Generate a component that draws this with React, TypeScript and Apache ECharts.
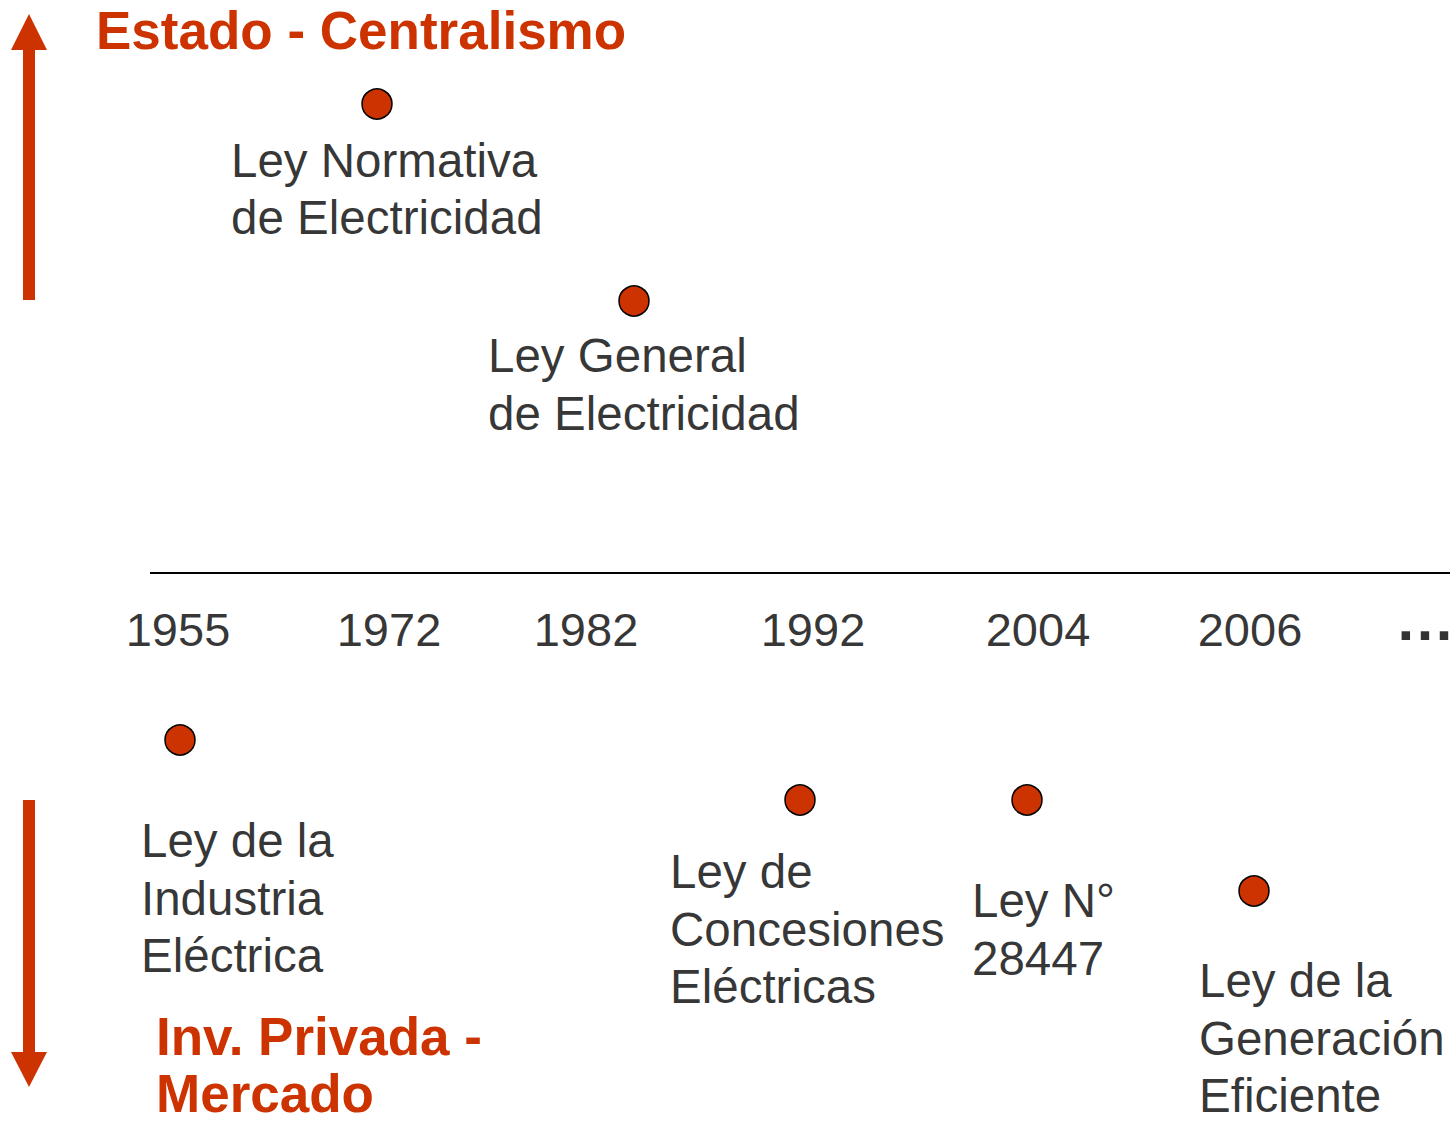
import React, { useEffect, useRef } from "react";
import * as echarts from "echarts";

// Timeline position units: x along the timeline, y = orientation (+ Estado, - Mercado)
const yearLabels = ["1955", "1972", "1982", "1992", "2004", "2006"];
const yearPos = [178, 389, 586, 813, 1038, 1250];
const yearLevel = -56;

const eventNames = [
  "Ley Normativa\nde Electricidad",
  "Ley General\nde Electricidad",
  "Ley de la\nIndustria\nEléctrica",
  "Ley de\nConcesiones\nEléctricas",
  "Ley N°\n28447",
  "Ley de la\nGeneración\nEficiente",
];
const eventX = [377, 634, 180, 800, 1027, 1254];
const eventY = [469, 272, -167, -227, -227, -318];
const labelX = [231, 488, 141, 670, 972, 1199];
const labelY = [384, 188.5, -325, -356, -356.5, -465];

const timelineStart = 150;
const timelineEnd = 1450;

const topTitle = "Estado - Centralismo";
const bottomTitleLines = ["Inv. Privada -", "Mercado"];
const moreLabel = "…";

const ORANGE = "#CC3300";
const FONT = "'Liberation Sans', Arial, Helvetica, sans-serif";

export default function App() {
  const ref = useRef<HTMLDivElement>(null);
  useEffect(() => {
    document.body.style.margin = "0";
    const chart = echarts.init(ref.current!, null, { renderer: "svg" });
    chart.setOption({
      animation: false,
      backgroundColor: "#ffffff",
      grid: { left: 0, right: 0, top: 0, bottom: 0 },
      xAxis: { type: "value", min: 0, max: 1455, show: false },
      yAxis: { type: "value", min: -552, max: 573, show: false },
      graphic: [
        // up arrow
        { type: "rect", shape: { x: 23, y: 48, width: 12, height: 252 }, style: { fill: ORANGE } },
        { type: "polygon", shape: { points: [[11, 50], [47, 50], [29, 14]] }, style: { fill: ORANGE } },
        // down arrow
        { type: "rect", shape: { x: 23, y: 800, width: 12, height: 254 }, style: { fill: ORANGE } },
        { type: "polygon", shape: { points: [[11, 1052], [47, 1052], [29, 1087]] }, style: { fill: ORANGE } },
        {
          type: "text",
          left: 96,
          top: 4,
          style: { text: topTitle, fill: ORANGE, font: `bold 53px ${FONT}`, lineHeight: 42 },
        },
        {
          type: "text",
          left: 156,
          top: 1010,
          style: { text: bottomTitleLines[0], fill: ORANGE, font: `bold 53px ${FONT}`, lineHeight: 42 },
        },
        {
          type: "text",
          left: 156,
          top: 1067,
          style: { text: bottomTitleLines[1], fill: ORANGE, font: `bold 53px ${FONT}`, lineHeight: 42 },
        },
      ],
      series: [
        {
          type: "line",
          data: [[timelineStart, 0], [timelineEnd, 0]],
          symbol: "none",
          lineStyle: { color: "#000", width: 2 },
          silent: true,
        },
        {
          type: "scatter",
          data: yearLabels.map((y, i) => ({ value: [yearPos[i], yearLevel], name: y })),
          symbolSize: 0,
          label: {
            show: true,
            position: [0, 0],
            formatter: (p: any) => p.name,
            align: "center",
            verticalAlign: "middle",
            color: "#000",
            fontFamily: FONT,
            fontSize: 47,
          },
          silent: true,
        },
        {
          type: "scatter",
          data: [{ value: [1425, yearLevel + 10], name: moreLabel }],
          symbolSize: 0,
          label: {
            show: true,
            position: [0, 0],
            formatter: (p: any) => p.name,
            align: "center",
            verticalAlign: "middle",
            color: "#000",
            fontFamily: FONT,
            fontWeight: "bold",
            fontSize: 60,
          },
          silent: true,
        },
        {
          type: "scatter",
          data: eventNames.map((n, i) => ({ value: [labelX[i], labelY[i]], name: n })),
          symbolSize: 0,
          label: {
            show: true,
            position: [0, 0],
            formatter: (p: any) => p.name,
            align: "left",
            verticalAlign: "middle",
            color: "#000",
            fontFamily: FONT,
            fontSize: 47.5,
            lineHeight: 57.5,
          },
          silent: true,
        },
        {
          type: "scatter",
          data: eventX.map((x, i) => [x, eventY[i]]),
          symbol: "circle",
          symbolSize: 30,
          itemStyle: { color: ORANGE, borderColor: "#000", borderWidth: 1.5, opacity: 1 },
          silent: true,
        },
      ],
    });
    return () => chart.dispose();
  }, []);
  return <div ref={ref} style={{ width: 1455, height: 1125 }} />;
}
